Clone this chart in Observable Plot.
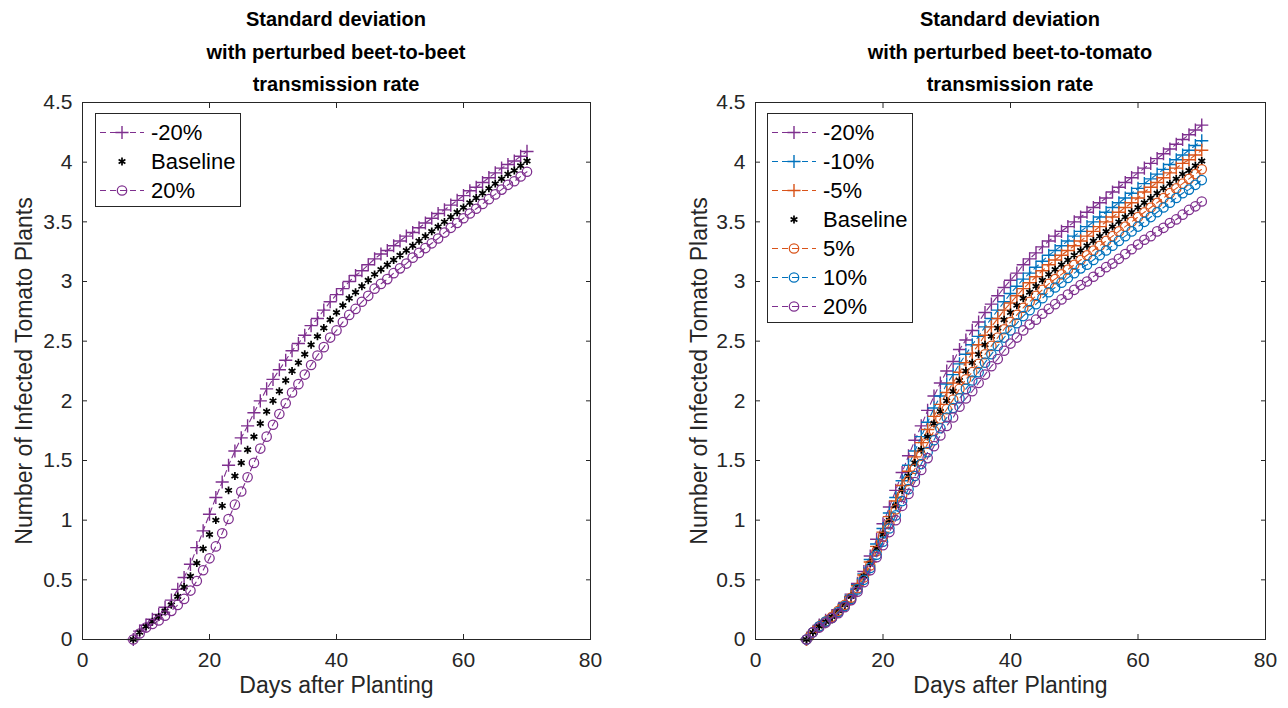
<!DOCTYPE html>
<html><head><meta charset="utf-8">
<script src="https://cdn.jsdelivr.net/npm/d3@7"></script>
<script src="https://cdn.jsdelivr.net/npm/@observablehq/plot@0.6"></script>
<style>
body{margin:0;background:#fff;}
#wrap{position:relative;width:1288px;height:708px;font-family:"Liberation Sans",Arial,Helvetica,sans-serif;color:#262626;overflow:hidden;background:#fff}
.panel{position:absolute;top:0;width:644px;height:708px}
.title{position:absolute;top:3px;font-weight:bold;font-size:20px;line-height:32.5px;text-align:center;color:#000;white-space:nowrap}
.legend{position:absolute;border:1px solid #262626;background:#fff;padding-top:4px;box-sizing:border-box;width:146px}
.row{height:29px;display:flex;align-items:center;font-size:22px;color:#000}
.row svg{margin-left:3px;margin-right:6px;flex:none}
</style></head><body><div id="wrap"></div>
<script>
// ---------- data ----------
const days = [8,9,10,11,12,13,14,15,16,17,18,19,20,21,22,23,24,25,26,27,28,29,30,31,32,33,34,35,36,37,38,39,40,41,42,43,44,45,46,47,48,49,50,51,52,53,54,55,56,57,58,59,60,61,62,63,64,65,66,67,68,69,70];
const xTicks = [0,20,40,60,80];
const yTicks = [0,0.5,1,1.5,2,2.5,3,3.5,4,4.5];

const baseline = [0.00,0.06,0.11,0.15,0.19,0.24,0.29,0.36,0.44,0.53,
0.64,0.76,0.88,1.00,1.12,1.25,1.37,1.48,1.59,1.70,
1.81,1.91,2.00,2.08,2.17,2.25,2.32,2.39,2.47,2.54,
2.61,2.68,2.74,2.80,2.86,2.91,2.96,3.01,3.06,3.10,
3.14,3.18,3.22,3.26,3.30,3.34,3.38,3.42,3.46,3.50,
3.54,3.58,3.62,3.66,3.70,3.74,3.78,3.82,3.86,3.90,
3.93,3.97,4.01];

// left panel: beet-to-beet
const beetMinus20 = [0.00,0.07,0.12,0.17,0.21,0.27,0.33,0.42,0.52,0.63,
0.77,0.91,1.05,1.19,1.32,1.46,1.58,1.69,1.79,1.90,
2.00,2.10,2.18,2.26,2.34,2.42,2.48,2.55,2.63,2.69,
2.76,2.83,2.89,2.94,3.00,3.05,3.09,3.14,3.19,3.23,
3.26,3.30,3.34,3.38,3.41,3.45,3.49,3.53,3.57,3.60,
3.64,3.68,3.72,3.76,3.79,3.83,3.87,3.91,3.95,3.98,
4.01,4.05,4.09];
const beetPlus20 = [0.00,0.05,0.10,0.13,0.16,0.20,0.24,0.29,0.34,0.41,
0.49,0.58,0.68,0.78,0.89,1.01,1.13,1.24,1.36,1.48,
1.60,1.70,1.80,1.89,1.98,2.07,2.14,2.22,2.30,2.38,
2.45,2.53,2.59,2.66,2.72,2.77,2.83,2.88,2.94,2.98,
3.02,3.07,3.11,3.15,3.20,3.24,3.28,3.32,3.36,3.41,
3.45,3.49,3.53,3.57,3.61,3.65,3.69,3.73,3.77,3.81,
3.84,3.88,3.92];

// right panel: beet-to-tomato
const tomMinus20 = [0.00,0.06,0.12,0.16,0.20,0.25,0.31,0.38,0.47,0.57,
0.70,0.84,0.97,1.11,1.25,1.40,1.54,1.67,1.79,1.92,
2.04,2.15,2.25,2.33,2.43,2.51,2.59,2.66,2.74,2.81,
2.88,2.95,3.01,3.07,3.14,3.19,3.24,3.29,3.34,3.38,
3.42,3.46,3.50,3.54,3.58,3.62,3.66,3.70,3.75,3.79,
3.83,3.87,3.91,3.95,3.99,4.03,4.07,4.11,4.15,4.19,
4.23,4.27,4.31];
const tomMinus10 = [0.00,0.06,0.11,0.15,0.19,0.24,0.30,0.37,0.46,0.55,
0.67,0.80,0.93,1.06,1.19,1.33,1.46,1.58,1.70,1.82,
1.94,2.04,2.14,2.22,2.31,2.39,2.47,2.54,2.62,2.69,
2.76,2.83,2.90,2.96,3.02,3.07,3.12,3.17,3.22,3.26,
3.30,3.34,3.38,3.42,3.46,3.50,3.54,3.58,3.62,3.66,
3.70,3.74,3.78,3.82,3.86,3.90,3.94,3.98,4.02,4.06,
4.10,4.14,4.18];
const tomMinus5 = [0.00,0.06,0.11,0.15,0.19,0.24,0.29,0.36,0.45,0.54,
0.65,0.78,0.90,1.03,1.16,1.29,1.41,1.53,1.65,1.76,
1.87,1.97,2.07,2.15,2.24,2.32,2.40,2.47,2.55,2.62,
2.69,2.76,2.82,2.88,2.94,2.99,3.04,3.09,3.14,3.18,
3.22,3.26,3.30,3.34,3.38,3.42,3.46,3.50,3.54,3.58,
3.62,3.66,3.70,3.75,3.79,3.83,3.87,3.91,3.95,3.99,
4.02,4.06,4.10];
const tomPlus5 = [0.00,0.06,0.11,0.15,0.19,0.24,0.29,0.35,0.43,0.52,
0.62,0.74,0.86,0.97,1.09,1.21,1.33,1.43,1.54,1.64,
1.75,1.85,1.93,2.01,2.10,2.18,2.24,2.31,2.39,2.46,
2.53,2.60,2.66,2.72,2.78,2.83,2.88,2.93,2.98,3.02,
3.06,3.10,3.14,3.18,3.22,3.26,3.30,3.34,3.38,3.42,
3.46,3.50,3.54,3.58,3.62,3.66,3.70,3.74,3.78,3.82,
3.86,3.90,3.94];
const tomPlus10 = [0.00,0.06,0.11,0.15,0.18,0.23,0.28,0.34,0.42,0.50,
0.60,0.71,0.82,0.93,1.04,1.16,1.26,1.37,1.47,1.57,
1.67,1.77,1.86,1.94,2.02,2.10,2.17,2.24,2.32,2.39,
2.46,2.53,2.59,2.65,2.71,2.76,2.81,2.86,2.91,2.95,
2.99,3.03,3.07,3.11,3.14,3.18,3.22,3.26,3.30,3.34,
3.38,3.42,3.46,3.50,3.54,3.58,3.62,3.66,3.70,3.74,
3.77,3.81,3.85];
const tomPlus20 = [0.00,0.06,0.10,0.14,0.18,0.22,0.27,0.33,0.40,0.48,
0.58,0.69,0.79,0.90,1.00,1.12,1.22,1.32,1.42,1.52,
1.62,1.71,1.79,1.86,1.95,2.02,2.08,2.15,2.22,2.29,
2.35,2.42,2.48,2.53,2.59,2.64,2.68,2.73,2.77,2.81,
2.85,2.89,2.93,2.97,3.00,3.04,3.08,3.12,3.15,3.19,
3.23,3.27,3.31,3.35,3.38,3.42,3.45,3.49,3.52,3.56,
3.60,3.63,3.67];

const leftTitle = ["Standard deviation", "with perturbed beet-to-beet", "transmission rate"];
const rightTitle = ["Standard deviation", "with perturbed beet-to-tomato", "transmission rate"];
const xLabel = "Days after Planting";
const yLabel = "Number of Infected Tomato Plants";

// ---------- styling ----------
const purple = "#7E2F8E", blue = "#0072BD", orange = "#D95319", black = "#000000";
const symR = {plus: 4.3, circle: 4.7, asterisk: 3.7};
const symW = {plus: 1.4, circle: 1.25, asterisk: 1.7};
const d3sym = {plus: d3.symbolPlus, circle: d3.symbolCircle, asterisk: d3.symbolAsterisk};

const panels = [
  {left: 0, marginLeft: 82, marginRight: 54, ylabDx: -58, title: leftTitle, legend: {left: 95, top: 113},
   series: [
     {name: "-20%", values: beetMinus20, color: purple, symbol: "plus", dashed: true},
     {name: "Baseline", values: baseline, color: black, symbol: "asterisk", dashed: false},
     {name: "20%", values: beetPlus20, color: purple, symbol: "circle", dashed: true}
   ]},
  {left: 644, marginLeft: 111, marginRight: 23, ylabDx: -56, title: rightTitle, legend: {left: 767 - 644, top: 113},
   series: [
     {name: "-20%", values: tomMinus20, color: purple, symbol: "plus", dashed: true},
     {name: "-10%", values: tomMinus10, color: blue, symbol: "plus", dashed: true},
     {name: "-5%", values: tomMinus5, color: orange, symbol: "plus", dashed: true},
     {name: "Baseline", values: baseline, color: black, symbol: "asterisk", dashed: false},
     {name: "5%", values: tomPlus5, color: orange, symbol: "circle", dashed: true},
     {name: "10%", values: tomPlus10, color: blue, symbol: "circle", dashed: true},
     {name: "20%", values: tomPlus20, color: purple, symbol: "circle", dashed: true}
   ]}
];

const wrap = document.getElementById("wrap");
const font = '"Liberation Sans",Arial,Helvetica,sans-serif';

for (const p of panels) {
  const div = document.createElement("div");
  div.className = "panel";
  div.style.left = p.left + "px";
  wrap.appendChild(div);

  const marks = [
    Plot.axisX({ticks: xTicks, tickSize: -5, tickPadding: 18, label: null, stroke: "#262626", fill: "#262626", fontSize: 21}),
    Plot.axisX({anchor: "top", ticks: xTicks, tickSize: -5, tickFormat: () => "", label: null, stroke: "#262626"}),
    Plot.axisY({ticks: yTicks, tickSize: -5, tickPadding: 15, tickFormat: d => String(d), label: null, stroke: "#262626", fill: "#262626", fontSize: 21}),
    Plot.axisY({anchor: "right", ticks: yTicks, tickSize: -5, tickFormat: () => "", label: null, stroke: "#262626"}),
    Plot.text([xLabel], {frameAnchor: "bottom", dy: 53, text: d => d, fontSize: 23, fill: "#262626"}),
    Plot.text([yLabel], {frameAnchor: "left", textAnchor: "middle", dx: p.ylabDx, rotate: -90, text: d => d, fontSize: 23, fill: "#262626"})
  ];
  for (const s of p.series) {
    const rows = days.map((d, i) => ({day: d, value: s.values[i]}));
    if (s.dashed) marks.push(Plot.line(rows, {x: "day", y: "value", stroke: s.color, strokeWidth: 1.1, strokeDasharray: "6,4"}));
    marks.push(Plot.dot(rows, {x: "day", y: "value", symbol: s.symbol, r: symR[s.symbol], stroke: s.color, fill: "none", strokeWidth: symW[s.symbol]}));
  }
  marks.push(Plot.frame({stroke: "#262626", strokeWidth: 1}));

  const chart = Plot.plot({
    width: 644, height: 708,
    marginTop: 102, marginBottom: 69, marginLeft: p.marginLeft, marginRight: p.marginRight,
    x: {domain: [0, 80]},
    y: {domain: [0, 4.5]},
    style: {fontFamily: font, fontSize: "21px", background: "white", color: "#262626"},
    marks
  });
  div.appendChild(chart);

  // title
  const t = document.createElement("div");
  t.className = "title";
  t.style.left = p.marginLeft + "px";
  t.style.width = (644 - p.marginLeft - p.marginRight) + "px";
  t.innerHTML = p.title.join("<br>");
  div.appendChild(t);

  // legend
  const lg = document.createElement("div");
  lg.className = "legend";
  lg.style.left = p.legend.left + "px";
  lg.style.top = p.legend.top + "px";
  lg.style.height = (4 + p.series.length * 29 + 3) + "px";
  for (const s of p.series) {
    const row = document.createElement("div");
    row.className = "row";
    const svg = d3.create("svg").attr("width", 46).attr("height", 29);
    if (s.dashed) svg.append("line").attr("x1", 1).attr("x2", 45).attr("y1", 14.5).attr("y2", 14.5)
      .attr("stroke", s.color).attr("stroke-width", 1.1).attr("stroke-dasharray", "6,4");
    const r = symR[s.symbol];
    svg.append("path").attr("d", d3.symbol(d3sym[s.symbol], Math.PI * r * r)())
      .attr("transform", "translate(23,14.5)").attr("fill", "none").attr("stroke", s.color).attr("stroke-width", symW[s.symbol]);
    row.appendChild(svg.node());
    const span = document.createElement("span");
    span.textContent = s.name;
    row.appendChild(span);
    lg.appendChild(row);
  }
  div.appendChild(lg);
}
</script></body></html>
